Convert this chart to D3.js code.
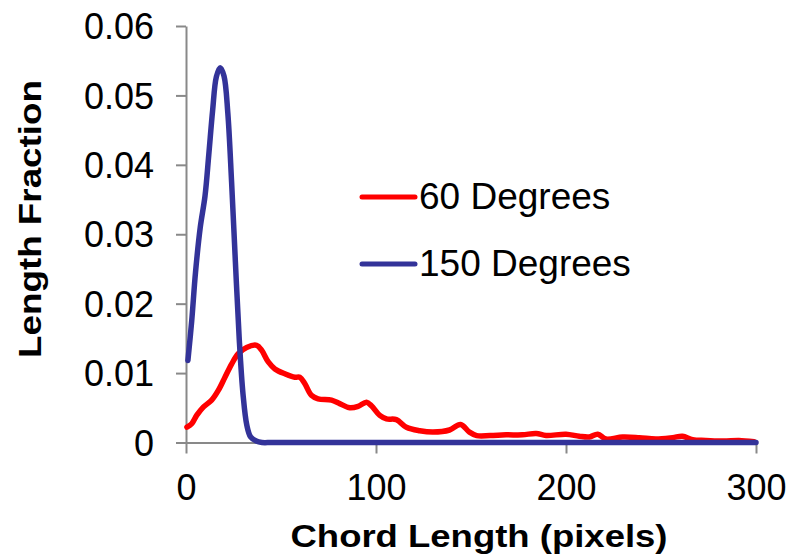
<!DOCTYPE html>
<html>
<head>
<meta charset="utf-8">
<script src="https://cdn.jsdelivr.net/npm/d3@7/dist/d3.min.js"></script>
<style>
  html, body { margin: 0; padding: 0; background: #ffffff; }
  svg { display: block; }
  text { font-family: "Liberation Sans", Arial, sans-serif; fill: #000; }
</style>
</head>
<body>
<svg id="chart" width="798" height="560"></svg>
<script>
// ---- data ----
const seriesNames = ["60 Degrees", "150 Degrees"];
const x60 = [0.5, 3, 5.6, 9.1, 13.5, 17, 20.5, 24, 27.5, 31.9, 37.2, 39.8, 43.3, 46.8, 52, 57.3, 59.9, 62.5, 66, 69.5,
  76.6, 80.9, 86.2, 90.6, 95, 97.6, 102, 105.5, 110.7, 116, 123, 130, 138.7, 144.5, 149.2, 153, 160, 168.5, 177, 184.3,
  189.5, 200, 207, 212.3, 216.7, 221, 229.8, 238.6, 247.3, 256.1, 261.3, 266.6, 273.6, 283, 291, 299];
const y60 = [0.0022, 0.0027, 0.0039, 0.0051, 0.0061, 0.0075, 0.0094, 0.0113, 0.0128, 0.0137, 0.0140, 0.0133, 0.0116, 0.0106, 0.0099, 0.0094, 0.0094, 0.0085, 0.0068, 0.0063,
  0.0061, 0.0056, 0.0050, 0.0052, 0.0058, 0.0053, 0.0039, 0.0034, 0.0033, 0.0022, 0.0017, 0.0015, 0.0018, 0.0026, 0.0015, 0.0010, 0.0010, 0.0011, 0.0011, 0.0013,
  0.0010, 0.0012, 0.0009, 0.0008, 0.0012, 0.0005, 0.0008, 0.0007, 0.0005, 0.0007, 0.0009, 0.0004, 0.0003, 0.0002, 0.0003, 0.0001];
const x150 = [1, 3, 5, 7.5, 10, 12, 14, 16, 18, 20, 22, 24, 26, 28, 30, 32, 34, 37, 40, 45, 60, 100, 200, 300];
const y150 = [0.0118, 0.0175, 0.0245, 0.0310, 0.0355, 0.0415, 0.0478, 0.0527, 0.0540, 0.0528, 0.0475, 0.0375, 0.0260, 0.0150, 0.0070, 0.0025, 0.0008, 0.0002, 0, 0, 0, 0, 0, 0];
const xTicks = [0, 100, 200, 300];
const yTicks = [0, 0.01, 0.02, 0.03, 0.04, 0.05, 0.06];
const xTitle = "Chord Length (pixels)";
const yTitle = "Length Fraction";
const colors = ["#ff0000", "#333399"];

// ---- layout ----
const svg = d3.select("#chart");
const x = d3.scaleLinear().domain([0, 300]).range([186, 756]);
const y = d3.scaleLinear().domain([0, 0.06]).range([442.5, 26]);
const axisColor = "#898989";

// y axis
const yAxis = svg.append("g").attr("transform", `translate(${x(0)},0)`)
  .call(d3.axisLeft(y).tickValues(yTicks).tickSize(10).tickSizeOuter(0).tickPadding(22)
    .tickFormat(d => d === 0 ? "0" : d3.format(".2f")(d)));
// x axis
const xAxis = svg.append("g").attr("transform", `translate(0,${y(0)})`)
  .call(d3.axisBottom(x).tickValues(xTicks).tickSize(11).tickSizeOuter(0).tickPadding(21)
    .tickFormat(d3.format("d")));

[yAxis, xAxis].forEach(g => {
  g.select(".domain").attr("stroke", axisColor).attr("stroke-width", 2);
  g.selectAll(".tick line").attr("stroke", axisColor).attr("stroke-width", 2);
  g.selectAll(".tick text").style("font-size", "36px").style("font-family", "'Liberation Sans', Arial, sans-serif").attr("fill", "#000");
});
yAxis.selectAll(".tick text").attr("dy", "0.35em");
xAxis.selectAll(".tick text").attr("dy", "0.71em");

// lines
const line = d3.line().x(d => x(d[0])).y(d => y(d[1])).curve(d3.curveCatmullRom.alpha(0.5));
const data60 = x60.map((v, i) => [v, y60[i]]);
const data150 = x150.map((v, i) => [v, y150[i]]);
[data60, data150].forEach((d, i) => {
  svg.append("path").datum(d).attr("d", line)
    .attr("fill", "none").attr("stroke", colors[i]).attr("stroke-width", 5.5)
    .attr("stroke-linejoin", "round").attr("stroke-linecap", "round");
});

// legend
const legendY = [197, 264];
seriesNames.forEach((name, i) => {
  const g = svg.append("g");
  g.append("line").attr("x1", 362).attr("x2", 415).attr("y1", legendY[i]).attr("y2", legendY[i])
    .attr("stroke", colors[i]).attr("stroke-width", 5).attr("stroke-linecap", "round");
  g.append("text").attr("x", 419).attr("y", legendY[i] + 11.5)
    .style("font-size", "37px").text(name);
});

// axis titles
svg.append("text").attr("x", 479).attr("y", 547).attr("text-anchor", "middle")
  .style("font-size", "31px").style("font-weight", "bold")
  .attr("textLength", 377).attr("lengthAdjust", "spacingAndGlyphs").text(xTitle);
svg.append("text").attr("transform", "translate(41,219) rotate(-90)").attr("text-anchor", "middle")
  .style("font-size", "31px").style("font-weight", "bold")
  .attr("textLength", 278).attr("lengthAdjust", "spacingAndGlyphs").text(yTitle);
</script>
</body>
</html>
